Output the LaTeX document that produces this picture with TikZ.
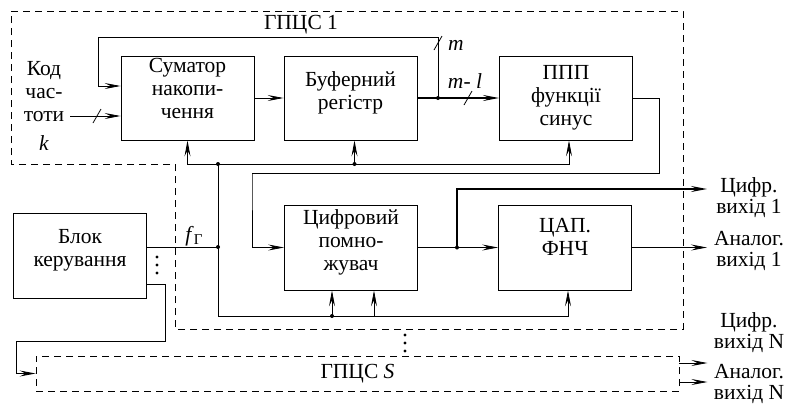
\documentclass[tikz,border=0pt]{standalone}
\usepackage{fontspec}
\setmainfont{Liberation Serif}
\usetikzlibrary{arrows.meta,calc}

\begin{document}
\begin{tikzpicture}[x=1pt, y=-1pt, >={Stealth[length=16pt,width=6pt,inset=6pt]},
    line width=0.8pt,
    every node/.style={font=\fontsize{21.5}{23}\selectfont},
    block/.style={draw, line width=0.9pt, minimum width=133pt,
                  minimum height=84pt, align=center, inner sep=2pt},
    outlabel/.style={align=center, font=\fontsize{21.5}{21}\selectfont, inner sep=1pt},
    bus/.style={line width=1.8pt},
    dot/.style={circle, fill, inner sep=0pt, minimum size=4pt},
    frame/.style={draw, dash pattern=on 7pt off 5pt, line width=0.8pt}]
  \useasboundingbox (0,0) rectangle (790,405);

  % outer frame of channel 1
  \draw[frame] (11,11) -- (683,11) -- (683,329) -- (175,329)
    -- (175,164) -- (11,164) -- cycle;
  \node (g1) at (301,25) {ГПЦС 1};

  \node[block, text depth=19pt] (sum) at (187.5,98) {Суматор\\накопи-\\чення};
  \node[block, text depth=15pt] (buf) at (350.5,98) {Буферний\\регістр};
  \node[block] (ppp) at (566,98) {ППП\\функції\\синус};
  \node[block, minimum height=85pt, text depth=15pt] (mul) at (351,247.5) {Цифровий\\помно-\\жувач};
  \node[block, minimum height=85pt, text depth=21pt] (dac) at (565,247.5) {ЦАП.\\ФНЧ};
  \node[block, minimum height=85pt, text depth=15pt] (ctl) at (80,255.5) {Блок\\керування};
  \node[frame, minimum width=643pt, minimum height=35pt] (gS) at (357.5,373.5) {ГПЦС \textit{S}};

  % input code
  \node[align=center] (kod) at (44,92) {Код\\час-\\тоти};
  \node (k) at (44,143) {\textit{k}};
  \coordinate (kin) at (70,116);
  \draw[->] (kin) -- (sum.west |- kin);
  \draw (93,123) -- (101,109);

  % accumulator loop
  \coordinate (jm) at (438,98);
  \draw[->] (sum) -- (buf);
  \draw[->, bus] (buf) -- (ppp);
  \draw[->] (jm) -- ++(0,-61) -- ++(-340,0) |- ([yshift=12]sum.west);
  \node[dot] at (jm) {};
  \draw (434,50) -- (442,36);
  \node (m) at (456,45) {\textit{m}};
  \draw (464,105) -- (472,91);
  \node (ml) at (465,81) {\textit{m}- \textit{l}};

  % clock lines
  \coordinate (jtop) at (218,164);
  \coordinate (jclk) at (218,247);
  \coordinate (jbot) at (218,316);
  \draw (ctl.east |- jclk) -- (jclk);
  \node (fg) at (194,236) {\textit{f}\raisebox{-0.35ex}{\fontsize{15}{15}\selectfont Г}};
  \draw (jtop) -- (jbot);
  \draw[->] (jtop) -| (sum.south);
  \draw[->] (jtop) -| ([xshift=4]buf.south);
  \draw[->] (jtop) -| ([xshift=3]ppp.south);
  \draw[->] (jbot) -| ([xshift=-19]mul.south);
  \draw[->] (jbot) -| ([xshift=23]mul.south);
  \draw[->] (jbot) -| ([xshift=3]dac.south);
  \node[dot] at (jtop) {};
  \node[dot] at (jclk) {};
  \node[dot] at ([xshift=4]buf.south |- jtop) {};
  \node[dot] at ([xshift=-19]mul.south |- jbot) {};

  % sine table to multiplier
  \coordinate (ret) at (252,174);
  \draw[->] (ppp.east) -| ++(26,75) -| (ret) |- (mul.west);

  % outputs
  \coordinate (jd) at (457,247.5);
  \coordinate (dout) at (707,189);
  \coordinate (aout) at (707,247.5);
  \draw[->] (mul) -- (dac);
  \draw[->, bus] (jd) |- (dout);
  \draw[->] (dac) -- (aout);
  \node[dot] at (jd) {};
  \node[outlabel] (d1) at (749,198) {Цифр.\\вихід 1};
  \node[outlabel] (a1) at (749,251) {Аналог.\\вихід 1};
  \node[outlabel] (dN) at (749,333) {Цифр.\\вихід N};
  \node[outlabel] (aN) at (749,384) {Аналог.\\вихід N};
  \draw[->] ([yshift=10.5]gS.east) -- ++(28,0);
  \draw[->] ([yshift=-8.5]gS.east) -- ++(28,0);

  % control to channel S
  \draw[->] ([yshift=-28.5]ctl.east) -- ++(18,0) |- ++(-149,57) |- (gS.west);
  \foreach \y in {257,265,273} \fill (157,\y) circle (1.7);
  \foreach \y in {335,343,351} \fill (405,\y) circle (1.7);
\end{tikzpicture}
\end{document}
